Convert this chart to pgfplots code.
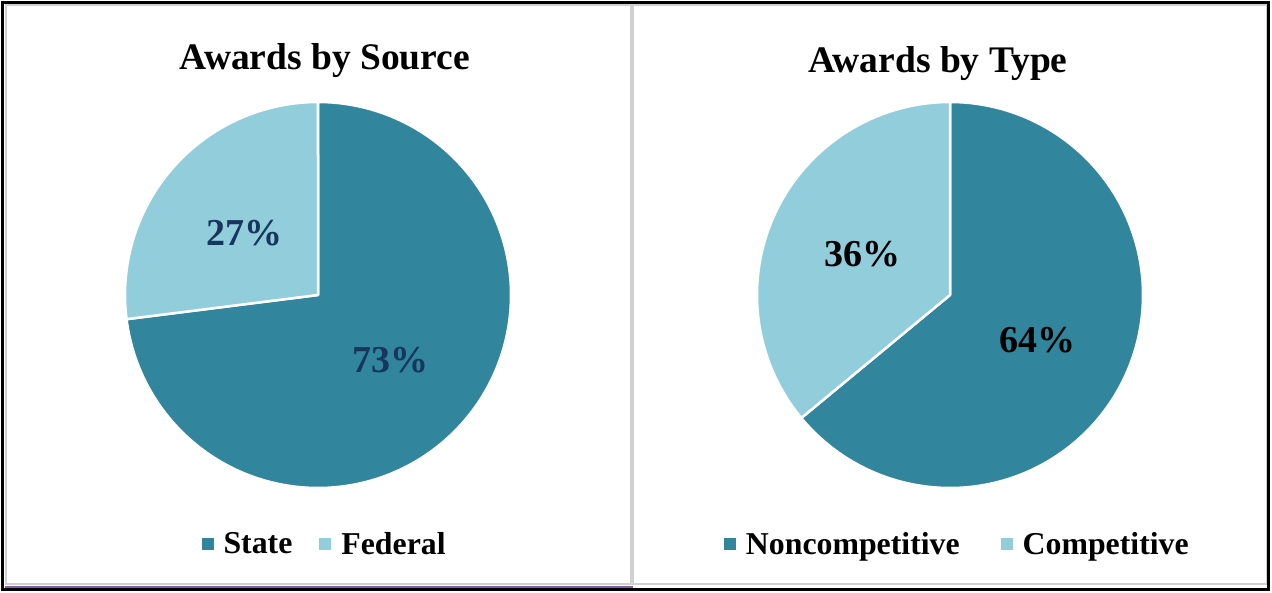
\documentclass[border=0pt]{standalone}
\usepackage{pgfplots}
\pgfplotsset{compat=1.18}
\usepackage{fontspec}
\setmainfont{Liberation Serif}
\definecolor{dteal}{HTML}{31859C}
\definecolor{lteal}{HTML}{92CDDC}
\definecolor{navy}{HTML}{17365D}
\definecolor{panelgrey}{HTML}{D0D0D0}
\definecolor{purp}{HTML}{7E5FA8}
\pgfplotsset{
  piestyle/.style={
    hide axis, scale only axis, width=386pt, height=386pt,
    xmin=-1, xmax=1, ymin=-1, ymax=1, anchor=center,
    clip=false,
    legend columns=2,
    legend image code/.code={\fill[##1, draw=none] (0pt,-6pt) rectangle (12pt,6pt);},
    legend style={draw=none, fill=none, anchor=center,
      font=\fontsize{31.8}{38}\selectfont\bfseries, inner sep=0pt,
      /tikz/every odd column/.append style={column sep=8pt}},
  },
  slice/.style={draw=white, line width=2.5pt, samples=200, line join=round},
}
\begin{document}
\begin{tikzpicture}[x=1pt,y=1pt]
\useasboundingbox (0,0) rectangle (1272,592);
\fill[white] (0,0) rectangle (1272,592);
% panels
\draw[panelgrey, line width=2pt] (5.5,8) rectangle (631,586.5);
\draw[panelgrey, line width=2pt] (633,8) rectangle (1266.5,586.5);
\draw[purp, line width=2pt] (5,5) -- (633,5);
\draw[black, line width=3pt] (2.5,2.5) rectangle (1268.5,589.5);
% titles
\node[font=\fontsize{37.5}{44}\selectfont\bfseries] at (325,531) {Awards by Source};
\node[font=\fontsize{37.5}{44}\selectfont\bfseries] at (938,528) {Awards by Type};
% left pie: State 73, Federal 27
\begin{axis}[piestyle, at={(318pt,297pt)},
  legend style={at={(0.517,-0.145)},
    /tikz/every even column/.append style={column sep=25pt}}]
\addplot[slice, fill=dteal, domain=90:{90-3.6*73}] ({cos(x)},{sin(x)}) -- (axis cs:0,0) -- cycle;
\addlegendentry{State}
\addplot[slice, fill=lteal, domain={90-3.6*73}:{90-3.6*100}] ({cos(x)},{sin(x)}) -- (axis cs:0,0) -- cycle;
\addlegendentry{Federal}
\node[font=\fontsize{38}{44}\selectfont\bfseries, text=navy] at (axis cs:0.375,-0.337) {73\%};
\node[font=\fontsize{38}{44}\selectfont\bfseries, text=navy] at (axis cs:-0.383,0.321) {27\%};
\end{axis}
% right pie: Noncompetitive 64, Competitive 36
\begin{axis}[piestyle, at={(950pt,297pt)},
  legend style={at={(0.519,-0.145)},
    /tikz/every even column/.append style={column sep=39pt}}]
\addplot[slice, fill=dteal, domain=90:{90-3.6*64}] ({cos(x)},{sin(x)}) -- (axis cs:0,0) -- cycle;
\addlegendentry{Noncompetitive}
\addplot[slice, fill=lteal, domain={90-3.6*64}:{90-3.6*100}] ({cos(x)},{sin(x)}) -- (axis cs:0,0) -- cycle;
\addlegendentry{Competitive}
\node[font=\fontsize{38}{44}\selectfont\bfseries, text=black] at (axis cs:0.451,-0.233) {64\%};
\node[font=\fontsize{38}{44}\selectfont\bfseries, text=black] at (axis cs:-0.456,0.212) {36\%};
\end{axis}
\end{tikzpicture}
\end{document}
